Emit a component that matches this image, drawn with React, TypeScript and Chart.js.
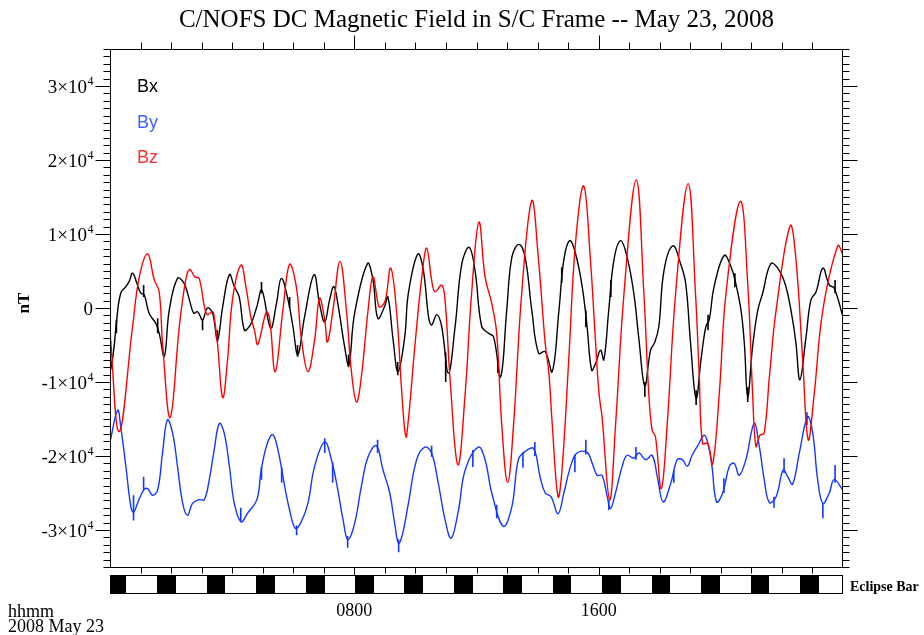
import React, { useEffect, useRef } from 'react';
import { Chart, registerables } from 'chart.js';

Chart.register(...registerables);

// ---------- data (time in hours UT, field in nT) ----------
const titleText = 'C/NOFS DC Magnetic Field in S/C Frame -- May 23, 2008';

const bxSeries: [number, number][] = [
  [0.00, -8800], [0.11, -6100], [0.22, -1600], [0.35, 2000], [0.52, 2900], [0.63, 3600], [0.74, 4700], [0.90, 3100],
  [1.01, 2000], [1.12, 1800], [1.28, -700], [1.50, -2100], [1.61, -3400], [1.78, -6500], [1.94, -300], [2.21, 4000],
  [2.43, 3300], [2.60, 1100], [2.74, -700], [2.87, -500], [3.03, -1600], [3.19, 0], [3.36, -700], [3.52, -4300],
  [3.69, 200], [3.91, 4500], [4.07, 2900], [4.23, 1500], [4.40, -3000], [4.56, -2500], [4.67, -1600], [4.81, 200],
  [4.97, 2400], [5.26, -2700], [5.45, 600], [5.61, 4000], [5.83, 1100], [5.99, -2500], [6.15, -6300], [6.37, -1200],
  [6.68, 4500], [6.86, 600], [7.03, -1900], [7.19, 1100], [7.33, 2900], [7.46, 600], [7.68, -5200], [7.82, -7700],
  [8.01, -700], [8.43, 6000], [8.61, 3800], [8.77, -1400], [8.99, 200], [9.10, 1500], [9.27, -4300], [9.43, -8600],
  [9.65, -3900], [9.77, 2000], [10.08, 7300], [10.26, 5100], [10.43, -1200], [10.53, -2300], [10.70, -900], [10.86, -2500],
  [11.08, -8800], [11.30, -2500], [11.52, 6000], [11.76, 8200], [11.95, 5100], [12.17, -2500], [12.39, -3400], [12.56, -3900],
  [12.79, -9300], [12.99, -300], [13.16, 6900], [13.39, 8600], [13.59, 6900], [13.81, -300], [14.03, -6100], [14.25, -5900],
  [14.48, -8600], [14.70, -300], [14.86, 6500], [15.05, 9100], [15.24, 7400], [15.46, 2900], [15.62, -2500], [15.77, -8400],
  [15.90, -7500], [16.06, -5700], [16.17, -7000], [16.33, -300], [16.50, 6500], [16.72, 9100], [16.93, 6900], [17.15, 2000],
  [17.32, -4300], [17.51, -10500], [17.70, -5700], [17.84, -4600], [17.97, -2500], [18.14, 5100], [18.43, 8400], [18.68, 6000],
  [18.85, 3300], [19.01, -4800], [19.19, -12200], [19.35, -7000], [19.51, -2500], [19.62, -1600], [19.78, 2900], [20.11, 7100],
  [20.33, 5600], [20.49, 3300], [20.66, -300], [20.77, -4800], [20.88, -12000], [21.04, -5200], [21.21, -300], [21.37, 2000],
  [21.64, 6000], [21.91, 5100], [22.13, 2900], [22.35, -1600], [22.46, -4800], [22.59, -9700], [22.79, -3900], [22.95, 1100],
  [23.12, 2200], [23.34, 5400], [23.55, 3100], [23.71, 2700], [24.00, -1200],
];

const bySeries: [number, number][] = [
  [0.00, -18100], [0.25, -13800], [0.35, -16000], [0.52, -21400], [0.68, -26800], [0.77, -27600], [0.90, -26400], [1.10, -24600],
  [1.23, -24400], [1.39, -25300], [1.56, -24600], [1.72, -19600], [1.88, -15100], [2.05, -16900], [2.21, -21400], [2.38, -26400],
  [2.54, -28000], [2.70, -26400], [2.92, -25900], [3.09, -25900], [3.25, -23200], [3.41, -19200], [3.58, -15600], [3.74, -16900],
  [3.91, -21400], [4.07, -26400], [4.29, -28900], [4.51, -27700], [4.81, -25900], [4.95, -21900], [5.15, -18300], [5.33, -17100],
  [5.50, -19200], [5.72, -24100], [5.88, -27300], [6.07, -29800], [6.26, -28900], [6.48, -26400], [6.70, -21400], [7.03, -18100],
  [7.25, -20500], [7.46, -24600], [7.63, -28600], [7.79, -31300], [8.01, -29100], [8.23, -24100], [8.45, -20100], [8.72, -18600],
  [8.94, -21900], [9.16, -25000], [9.32, -29100], [9.45, -31800], [9.58, -30500], [9.77, -26400], [10.04, -20500], [10.31, -18800],
  [10.53, -19600], [10.75, -23700], [10.97, -28600], [11.17, -31100], [11.41, -27300], [11.63, -21900], [12.06, -18800], [12.28, -20500],
  [12.50, -25000], [12.88, -29500], [13.16, -26800], [13.37, -20500], [13.59, -19400], [13.87, -19000], [14.08, -22800], [14.25, -25000],
  [14.44, -25500], [14.67, -27800], [14.86, -25000], [15.08, -21400], [15.29, -19600], [15.62, -19500], [15.79, -21000], [15.95, -22600],
  [16.11, -22600], [16.28, -25500], [16.39, -27100], [16.55, -25000], [16.77, -21400], [16.93, -19900], [17.15, -20300], [17.32, -19600],
  [17.54, -20500], [17.75, -19900], [17.92, -22800], [18.11, -26200], [18.36, -23700], [18.57, -20500], [18.74, -20500], [18.90, -21400],
  [19.06, -19900], [19.26, -18500], [19.46, -17200], [19.60, -18700], [19.71, -21400], [19.86, -26200], [20.06, -25000], [20.28, -21400],
  [20.44, -21000], [20.60, -22600], [20.82, -20500], [21.09, -15600], [21.26, -18700], [21.42, -23200], [21.59, -26300], [21.81, -25500],
  [22.04, -21900], [22.19, -22800], [22.35, -23800], [22.57, -19600], [22.84, -14700], [23.01, -16900], [23.17, -23200], [23.34, -26400],
  [23.55, -25000], [23.71, -23200], [24.00, -24600],
];

const bzSeries: [number, number][] = [
  [0.00, -3200], [0.30, -16700], [0.74, -2500], [0.96, 4200], [1.23, 7300], [1.45, 3800], [1.61, 2200], [1.72, -4700],
  [1.97, -14800], [2.27, -2500], [2.48, 3800], [2.61, 5200], [2.78, 4200], [2.92, 4000], [3.09, 200], [3.19, -900],
  [3.36, -500], [3.41, -1200], [3.52, -4800], [3.69, -12100], [3.85, -7000], [4.01, 1100], [4.29, 5800], [4.45, 2900],
  [4.61, -1200], [4.73, -3000], [4.84, -4900], [5.12, -500], [5.23, -1600], [5.41, -8600], [5.66, -300], [5.88, 5900],
  [6.10, 2900], [6.26, -3900], [6.48, -8600], [6.70, -4300], [6.86, 1300], [7.03, -1600], [7.12, -4600], [7.30, -300],
  [7.53, 6300], [7.74, -300], [7.90, -8400], [8.07, -12700], [8.23, -9300], [8.45, -300], [8.61, 4200], [8.80, 200],
  [8.89, 200], [9.02, 1100], [9.19, 5400], [9.38, -300], [9.54, -10600], [9.65, -16500], [9.71, -17400], [9.99, -4800],
  [10.21, 4200], [10.37, 8100], [10.53, 3800], [10.64, 2200], [10.86, 3100], [10.97, 1100], [11.13, -9300], [11.39, -21200],
  [11.63, -11500], [11.84, 2000], [12.08, 11600], [12.28, 4200], [12.50, 600], [12.66, -3400], [12.83, -16000], [13.02, -23600],
  [13.21, -16000], [13.48, 2000], [13.81, 14500], [14.03, 6500], [14.25, -4800], [14.37, -8800], [14.47, -15100], [14.67, -25500],
  [14.80, -21900], [15.02, -7000], [15.24, 8700], [15.51, 16500], [15.73, 6500], [15.90, -4800], [16.01, -11500], [16.11, -14700],
  [16.36, -25900], [16.55, -16000], [16.83, 2000], [17.23, 17300], [17.48, 2000], [17.64, -11500], [17.75, -16500], [17.86, -17400],
  [18.05, -24400], [18.24, -16000], [18.52, 2000], [18.93, 16800], [19.17, 2000], [19.29, -8800], [19.40, -18300], [19.57, -18300],
  [19.73, -21100], [19.95, -11500], [20.17, 2000], [20.64, 14400], [20.88, 3300], [21.04, -11500], [21.15, -18700], [21.28, -17200],
  [21.42, -16900], [21.59, -9300], [21.81, -300], [22.27, 11100], [22.46, 6500], [22.68, -7000], [22.86, -17800], [23.06, -11500],
  [23.34, -300], [23.83, 8400], [24.00, 7200],
];

// short data spikes: [hour, from nT, to nT]
const bxSpikes: [number, number, number][] = [
  [0.21, -1600, -3400], [1.10, 3100, 1500], [1.56, -1400, -3400], [3.03, -1600, -3000], [3.52, -3000, -4600],
  [4.96, 3500, 2000], [5.88, 1500, 0], [6.14, -5000, -6600], [7.81, -6300, -8000], [9.42, -7300, -9100],
  [10.99, -6000, -10000], [12.70, -6800, -8800], [14.79, 5500, 3400], [15.58, -300, -2600], [16.40, 3800, 1500],
  [17.51, -10000, -12000], [19.19, -11100, -13100], [19.58, -900, -3000], [20.46, 4700, 2800], [20.88, -10700, -12700],
  [23.74, 3800, 2000],
];
const bySpikes: [number, number, number][] = [
  [0.77, -25300, -28700], [1.10, -22800, -24600], [4.28, -27000, -28900], [4.96, -21500, -23200], [5.62, -21600, -23600],
  [6.11, -29400, -30700], [7.03, -17600, -19600], [7.29, -20900, -23600], [7.78, -30800, -32400], [8.76, -17800, -19600],
  [9.45, -31300, -33000], [10.53, -18600, -20100], [11.88, -19200, -21500], [12.66, -26600, -28400], [13.52, -19500, -21600],
  [13.91, -18100, -20000], [15.22, -19800, -22200], [15.58, -17800, -19800], [16.33, -25900, -27300], [17.22, -18800, -20500],
  [18.46, -21900, -23600], [20.10, -23000, -25000], [21.74, -25500, -27000], [22.07, -20300, -22300], [22.82, -14100, -15800],
  [23.34, -26400, -28400], [23.74, -21200, -23600],
];

const seriesNames = ['Bx', 'By', 'Bz'];
const lineColors = ['#000000', '#1238ff', '#ff0000'];
const legendColors = ['#000000', '#3f63ff', '#ff3030'];

// eclipse intervals (hours)
const eclipseStart = [0.0, 1.55, 3.17, 4.78, 6.41, 8.02, 9.64, 11.26, 12.87, 14.51, 16.11, 17.73, 19.35, 20.98, 22.59];
const eclipseEnd = [0.53, 2.17, 3.78, 5.39, 7.03, 8.63, 10.26, 11.88, 13.48, 15.11, 16.73, 18.34, 19.97, 21.59, 23.21];

const xMajorHours = [8, 16];
const xTickLabels = ['0800', '1600'];
const yMajorValues = [-30000, -20000, -10000, 0, 10000, 20000, 30000];
const yTickLabels = ['-3×10^4', '-2×10^4', '-1×10^4', '0', '1×10^4', '2×10^4', '3×10^4'];

const SERIF = '"Liberation Serif", "Times New Roman", serif';
const SANS = '"Liberation Sans", Arial, sans-serif';

function seg(ctx: CanvasRenderingContext2D, x1: number, y1: number, x2: number, y2: number) {
  ctx.beginPath();
  ctx.moveTo(x1, y1);
  ctx.lineTo(x2, y2);
  ctx.stroke();
}

const decorPlugin = {
  id: 'decor',
  afterDraw(chart: any) {
    const { ctx, chartArea: a, scales } = chart;
    const xs = scales.x;
    const ys = scales.y;
    const L = Math.round(a.left) + 0.5;
    const R = Math.round(a.right) - 0.5;
    const T = Math.round(a.top) + 0.5;
    const B = Math.round(a.bottom) + 0.5;
    ctx.save();
    ctx.strokeStyle = '#000';
    ctx.lineWidth = 1;
    ctx.strokeRect(L, T, R - L, B - T);

    for (let v = -35000; v <= 35000; v += 1000) {
      const y = Math.round(ys.getPixelForValue(v)) + 0.5;
      const major = v % 10000 === 0;
      const len = major ? 15 : 7;
      seg(ctx, L - len, y, L, y);
      seg(ctx, R, y, R + len, y);
    }
    for (let h = 1; h < 24; h++) {
      const x = Math.round(xs.getPixelForValue(h)) + 0.5;
      const major = xMajorHours.includes(h);
      seg(ctx, x, T - (major ? 14 : 7), x, T);
      seg(ctx, x, B, x, B + (major ? 9 : 6));
    }

    ctx.fillStyle = '#000';
    ctx.textBaseline = 'alphabetic';
    yMajorValues.forEach((v, i) => {
      const y = ys.getPixelForValue(v);
      const parts = yTickLabels[i].split('^');
      const rightEdge = 93;
      ctx.font = `19px ${SERIF}`;
      const baseW = ctx.measureText(parts[0]).width;
      let expW = 0;
      if (parts[1]) {
        ctx.font = `12px ${SERIF}`;
        expW = ctx.measureText(parts[1]).width;
      }
      const x0 = rightEdge - baseW - expW;
      ctx.font = `19px ${SERIF}`;
      ctx.textAlign = 'left';
      ctx.fillText(parts[0], x0, y + 6.5);
      if (parts[1]) {
        ctx.font = `12px ${SERIF}`;
        ctx.fillText(parts[1], x0 + baseW + 0.5, y - 1.5);
      }
    });

    ctx.save();
    ctx.translate(29, 303);
    ctx.rotate(-Math.PI / 2);
    ctx.font = `bold 17px ${SERIF}`;
    ctx.textAlign = 'center';
    ctx.fillText('nT', 0, 0);
    ctx.restore();

    ctx.font = `25px ${SERIF}`;
    ctx.textAlign = 'center';
    ctx.fillText(titleText, (a.left + a.right) / 2, 27);

    ctx.font = `18px ${SANS}`;
    ctx.textAlign = 'left';
    seriesNames.forEach((n, i) => {
      ctx.fillStyle = legendColors[i];
      ctx.fillText(n, 137, 92 + i * 35.5);
    });

    const bx0 = Math.round(xs.getPixelForValue(0)) + 0.5;
    const bx1 = Math.round(xs.getPixelForValue(24)) - 0.5;
    const by0 = 575.5;
    const by1 = 593.5;
    ctx.fillStyle = '#fff';
    ctx.fillRect(bx0, by0, bx1 - bx0, by1 - by0);
    ctx.fillStyle = '#000';
    eclipseStart.forEach((s, i) => {
      const x1 = xs.getPixelForValue(s);
      const x2 = xs.getPixelForValue(eclipseEnd[i]);
      ctx.fillRect(Math.round(x1), by0, Math.round(x2) - Math.round(x1), by1 - by0);
    });
    ctx.strokeStyle = '#000';
    ctx.strokeRect(bx0, by0, bx1 - bx0, by1 - by0);
    ctx.font = `bold 14px ${SERIF}`;
    ctx.textAlign = 'left';
    ctx.fillText('Eclipse Bar', 850, 591);

    ctx.font = `18px ${SERIF}`;
    ctx.textAlign = 'center';
    xMajorHours.forEach((h, i) => {
      ctx.fillText(xTickLabels[i], xs.getPixelForValue(h), 616);
    });
    ctx.textAlign = 'left';
    ctx.fillText('hhmm', 8, 617);
    ctx.fillText('2008 May 23', 8, 632);
    ctx.restore();
  },
};

export default function App() {
  const ref = useRef<HTMLCanvasElement>(null);
  useEffect(() => {
    if (!ref.current) return;
    const mk = (pts: [number, number][]) => pts.map(([x, y]) => ({ x, y }));
    const mkSpikes = (sp: [number, number, number][]) => {
      const out: { x: number; y: number | null }[] = [];
      sp.forEach(([h, a, b]) => {
        out.push({ x: h, y: a }, { x: h + 0.001, y: b }, { x: h + 0.002, y: null });
      });
      return out;
    };
    const curves = [bxSeries, bySeries, bzSeries];
    const datasets: any[] = curves.map((s, i) => ({
      label: seriesNames[i],
      data: mk(s),
      borderColor: lineColors[i],
      backgroundColor: lineColors[i],
      borderWidth: 1.4,
      pointRadius: 0,
      fill: false,
      tension: 0.4,
      order: 3 - i,
    }));
    datasets.push(
      { label: 'Bx spikes', data: mkSpikes(bxSpikes), borderColor: lineColors[0], borderWidth: 1.6, pointRadius: 0, tension: 0, spanGaps: false, order: 3 },
      { label: 'By spikes', data: mkSpikes(bySpikes), borderColor: lineColors[1], borderWidth: 1.6, pointRadius: 0, tension: 0, spanGaps: false, order: 2 },
    );
    const chart = new Chart(ref.current, {
      type: 'line',
      data: { datasets },
      options: {
        responsive: false,
        animation: false,
        devicePixelRatio: 1,
        layout: { padding: { left: 110, top: 49, right: 81, bottom: 68 } },
        scales: {
          x: { type: 'linear', min: 0, max: 24, display: false },
          y: { type: 'linear', min: -35000, max: 35000, display: false },
        },
        plugins: { legend: { display: false }, tooltip: { enabled: false }, title: { display: false } },
        events: [],
      },
      plugins: [decorPlugin],
    });
    return () => chart.destroy();
  }, []);
  return (
    <div style={{ position: 'absolute', left: 0, top: 0, width: 924, height: 635, background: '#fff' }}>
      <canvas ref={ref} width={924} height={635} style={{ display: 'block' }} />
    </div>
  );
}
